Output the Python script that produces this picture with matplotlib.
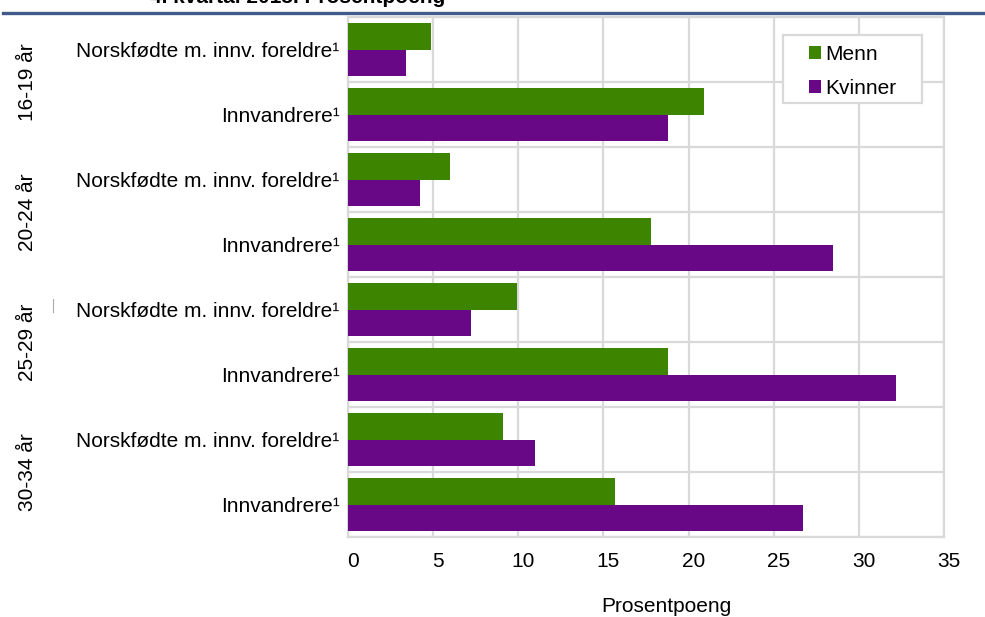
import numpy as np
import matplotlib
matplotlib.use("Agg")
import matplotlib.pyplot as plt
from matplotlib.lines import Line2D
from matplotlib.patches import Rectangle
from matplotlib.transforms import ScaledTranslation

plt.rcParams['font.family'] = ['Liberation Sans', 'DejaVu Sans']

# data, rows top to bottom
age_groups = ['16-19 år', '20-24 år', '25-29 år', '30-34 år']
row_labels = ['Norskfødte m. innv. foreldre¹', 'Innvandrere¹'] * 4
menn = [4.9, 20.9, 6.0, 17.8, 9.9, 18.8, 9.1, 15.7]
kvinner = [3.4, 18.8, 4.2, 28.5, 7.2, 32.2, 11.0, 26.7]
xticks = [0, 5, 10, 15, 20, 25, 30, 35]

green = '#3d8500'
purple = '#690887'
grid_c = '#d9d9d9'
fs = 15

fig = plt.figure(figsize=(9.85, 6.17), dpi=100)
ax = fig.add_axes([348 / 985, 1 - 537 / 617, 596 / 985, 520 / 617])

y = np.arange(len(menn))
h = 0.41
ax.barh(y - h / 2, menn, height=h, color=green, label='Menn', zorder=3)
ax.barh(y + h / 2, kvinner, height=h, color=purple, label='Kvinner', zorder=3)

ax.set_xlim(0, 35)
ax.set_ylim(len(menn) - 0.5, -0.5)
ax.set_xticks(xticks)
ax.set_xticklabels([str(t) for t in xticks], fontsize=fs)
ax.set_yticks(y)
ax.set_yticklabels(row_labels, fontsize=fs)
ax.set_yticks(np.arange(len(menn) + 1) - 0.5, minor=True)
ax.tick_params(axis='both', which='both', length=0)
ax.tick_params(axis='x', pad=11)
ax.tick_params(axis='y', pad=6)

# tick labels sit a bit right of the gridlines in the original
off = ScaledTranslation(5 / 100, 0, fig.dpi_scale_trans)
for lab in ax.get_xticklabels():
    lab.set_transform(lab.get_transform() + off)

ax.grid(axis='x', which='major', color=grid_c, lw=1.6, zorder=0)
ax.grid(axis='y', which='minor', color=grid_c, lw=1.6, zorder=0)
ax.set_axisbelow(True)
for sp in ax.spines.values():
    sp.set_color(grid_c)
    sp.set_linewidth(1.6)

ax.set_xlabel('Prosentpoeng', fontsize=fs)
ax.xaxis.set_label_coords((666 - 348) / 596, -(606 - 537) / 520)
ax.xaxis.label.set_verticalalignment('center')

# age group labels
for i, g in enumerate(age_groups):
    ax.text(-0.537, 2 * i + 0.5, g, transform=ax.get_yaxis_transform(),
            rotation=90, ha='center', va='center', fontsize=fs)

# legend box: wider side padding than matplotlib's frame allows, so draw it
ax.add_patch(Rectangle((0.7299, 0.8346), 0.2332, 0.1308, transform=ax.transAxes,
                       facecolor='white', edgecolor=grid_c, lw=1.6, zorder=4))
leg = ax.legend(loc='upper left', bbox_to_anchor=(0.7735, 0.947),
                fontsize=fs, frameon=False,
                handlelength=0.58, handleheight=0.58, handletextpad=0.2,
                labelspacing=0.72, borderpad=0, borderaxespad=0)
leg.set_zorder(5)

# header line and cut-off title
fig.add_artist(Line2D([3 / 985, 1], [1 - 12.5 / 617] * 2, color='#415a8b', lw=2.4))
fig.text(150 / 985, 1 - 3 / 617, '4. kvartal 2015. Prosentpoeng', fontsize=fs,
         fontweight='bold', va='baseline', ha='left')
# small stray mark left of the 25-29 label
fig.add_artist(Line2D([53 / 985] * 2, [1 - 299 / 617, 1 - 312 / 617], color='#aaaaaa', lw=0.8))

fig.savefig('out.png', dpi=100)
